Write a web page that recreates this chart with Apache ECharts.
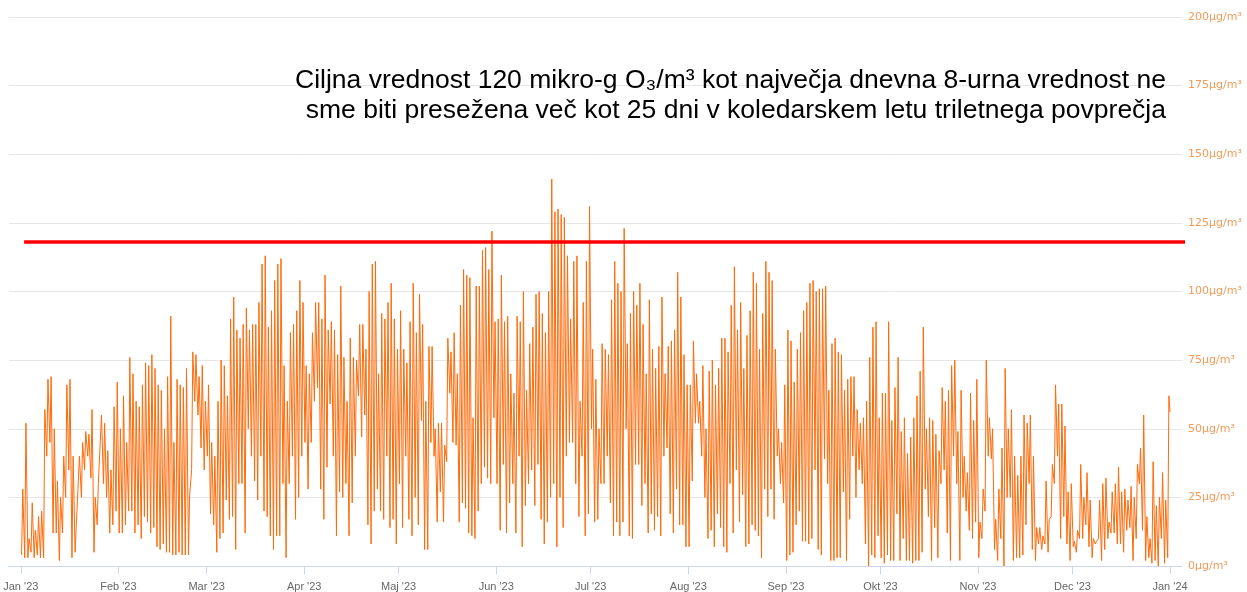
<!DOCTYPE html>
<html>
<head>
<meta charset="utf-8">
<title>O3 2023</title>
<script src="https://cdn.jsdelivr.net/npm/echarts@6/dist/echarts.min.js"></script>
<style>
    html, body { margin: 0; padding: 0; background: #fff; }
    #main { width: 1247px; height: 592px; }
</style>
</head>
<body>
<div id="main"></div>
<script>
    // daily lows (night) and highs (afternoon), µg/m3
    const janLow  = [4,3,3,5,3,4,3,3,40,45,12,12,2,12,25,35,3,5,15,25,35,40,32,5,15,30,30,25,12,15,20];
    const janHigh = [28,52,10,23,13,18,20,57,68,69,50,31,25,40,66,68,40,15,40,45,49,48,57,25,30,55,52,42,35,58,67];
    const febLow  = [12,12,15,20,20,12,15,10,18,16,12,14,7,6,8,5,5,4,4,5,4,4,4,35,60,55,43,35];
    const febHigh = [50,62,45,76,70,60,58,66,74,73,77,72,66,64,50,69,91,45,68,66,65,72,26,78,77,69,73,60];
    const marLow  = [40,19,15,5,10,12,24,17,18,6,30,30,12,50,40,31,24,40,20,18,11,6,11,11,30,3,30,40,17,25,40];
    const marHigh = [66,45,40,60,75,73,62,90,98,86,83,88,94,86,88,88,96,110,113,87,93,104,110,112,73,60,85,88,93,104,96];
    const aprLow  = [45,28,45,60,65,28,17,36,59,40,11,27,25,30,11,23,40,62,47,55,15,8,20,28,20,17,40,14,17,8];
    const aprHigh = [73,70,85,96,96,90,106,86,89,86,77,102,76,60,83,76,75,88,88,79,100,110,111,70,92,90,96,103,90,79];
    const mayLow  = [30,14,40,17,11,25,15,53,6,6,45,40,16,27,16,38,63,45,44,16,23,21,12,11,10,20,30,36,32,30,54];
    const mayHigh = [93,79,74,89,103,85,99,88,60,80,80,50,52,52,44,83,78,85,70,95,108,106,105,54,102,102,115,116,108,122,89];
    const junLow  = [30,13,37,12,23,30,12,40,7,22,30,35,22,37,17,8,16,25,30,7,25,14,40,45,45,30,18,40,11,19];
    const junHigh = [90,106,89,91,70,63,91,89,100,64,81,87,99,100,92,85,100,141,129,130,128,127,113,90,111,113,60,96,111,131];
    const julLow  = [50,16,17,30,30,40,23,11,16,11,16,50,11,10,37,37,22,30,12,19,13,18,11,40,43,19,12,28,15,15,7];
    const julHigh = [79,68,50,81,79,77,97,111,103,100,123,81,92,100,95,103,88,70,97,79,72,80,98,70,80,82,86,107,98,77,66];
    const augLow  = [7,31,52,52,40,25,10,13,7,19,14,7,5,30,12,35,16,26,7,8,15,13,11,3,28,18,28,17,40,30,23];
    const augHigh = [66,82,70,60,73,50,71,75,66,72,83,83,78,95,109,86,96,72,84,93,107,103,79,92,111,107,104,79,50,45,66];
    const sepLow  = [2,4,5,15,20,9,9,8,10,35,6,4,39,30,2,2,3,3,27,2,17,40,25,35,30,8,0,4,3,11];
    const sepHigh = [86,82,67,79,85,93,96,103,104,100,101,101,102,64,81,83,78,77,64,68,69,69,57,52,54,60,76,87,89,54];
    const octLow  = [3,1,4,2,2,19,2,10,2,2,1,2,2,5,28,18,2,14,3,30,35,12,2,40,30,2,25,20,13,10,16];
    const octHigh = [63,63,89,53,65,76,49,54,41,47,54,62,71,87,50,54,53,48,42,65,60,64,73,75,49,64,40,34,63,53,68];
    const novLow  = [3,10,20,40,39,6,2,10,0,25,25,2,3,3,4,15,30,6,2,8,6,8,5,18,30,40,10,18,8,2];
    const novHigh = [16,28,75,54,50,17,28,43,72,50,57,40,33,40,55,52,55,40,14,14,11,31,17,37,66,59,59,51,27,30];
    const decLow  = [7,5,10,10,15,7,3,8,10,2,6,10,12,12,8,8,5,13,14,2,10,30,13,2,3,1,2,0,10,1,3];
    const decHigh = [9,13,37,25,34,24,10,9,24,30,32,16,27,30,36,27,28,24,29,25,37,43,55,18,10,38,22,25,34,24,62];
    const yearEndValue = 56;

    const monthNames = ['Jan','Feb','Mar','Apr','Maj','Jun','Jul','Aug','Sep','Okt','Nov','Dec'];
    const yTicks = [0, 25, 50, 75, 100, 125, 150, 175, 200];
    const targetValue = [118, 118];
    const targetDates = [Date.UTC(2023, 0, 2, 1), Date.UTC(2024, 0, 6, 17)];
    const titleText = 'Ciljna vrednost 120 mikro-g O₃/m³ kot največja dnevna 8-urna vrednost ne\n' +
        'sme biti presežena več kot 25 dni v koledarskem letu triletnega povprečja';

    const months = [
        [janLow, janHigh], [febLow, febHigh], [marLow, marHigh], [aprLow, aprHigh],
        [mayLow, mayHigh], [junLow, junHigh], [julLow, julHigh], [augLow, augHigh],
        [sepLow, sepHigh], [octLow, octHigh], [novLow, novHigh], [decLow, decHigh]
    ];
    let ozone = [];
    months.forEach(function (pair, m) {
        pair[0].forEach(function (lo, d) {
            ozone.push([Date.UTC(2023, m, d + 1, 6), lo]);
            ozone.push([Date.UTC(2023, m, d + 1, 15), pair[1][d]]);
        });
    });
    ozone.push([Date.UTC(2024, 0, 1, 0), yearEndValue]);

    let monthTicks = [];
    for (let i = 0; i <= 12; i++) monthTicks.push(Date.UTC(2023, i, 1));

    let chart = echarts.init(document.getElementById('main'));
    chart.setOption({
        animation: false,
        title: {
            text: titleText,
            left: 1161,
            top: 61,
            textAlign: 'right',
            textStyle: {
                fontFamily: 'Liberation Sans',
                fontSize: 26.5,
                fontWeight: 'normal',
                color: '#000',
                lineHeight: 30
            }
        },
        grid: { left: 9, right: 65, top: 17, bottom: 26 },
        xAxis: {
            type: 'value',
            min: Date.UTC(2022, 11, 28, 6),
            max: Date.UTC(2024, 0, 4, 19),
            axisLine: { lineStyle: { color: '#ccd6eb' } },
            axisTick: { customValues: monthTicks, length: 8, lineStyle: { color: '#ccd6eb' } },
            axisLabel: {
                customValues: monthTicks,
                color: '#666',
                fontFamily: 'Liberation Sans',
                fontSize: 11,
                margin: 15,
                formatter: function (v) {
                    let d = new Date(v);
                    return monthNames[d.getUTCMonth()] + " '" + String(d.getUTCFullYear()).slice(2);
                }
            },
            splitLine: { show: false }
        },
        yAxis: {
            type: 'value',
            position: 'right',
            min: yTicks[0],
            max: yTicks[yTicks.length - 1],
            interval: 25,
            axisLine: { show: false },
            axisTick: { show: false },
            axisLabel: {
                color: '#f39a58',
                fontFamily: 'DejaVu Sans',
                fontSize: 11,
                margin: 6,
                formatter: '{value}μg/m³'
            },
            splitLine: { lineStyle: { color: '#e6e6e6' } }
        },
        series: [
            {
                name: 'O3',
                type: 'line',
                data: ozone,
                symbol: 'none',
                sampling: 'none',
                lineStyle: { color: '#ff6a0a', width: 1 },
                z: 2
            },
            {
                name: 'ciljna vrednost',
                type: 'line',
                data: [[targetDates[0], targetValue[0]], [targetDates[1], targetValue[1]]],
                symbol: 'none',
                clip: false,
                lineStyle: { color: '#ff0000', width: 3.5 },
                z: 3
            }
        ]
    });
</script>
</body>
</html>
